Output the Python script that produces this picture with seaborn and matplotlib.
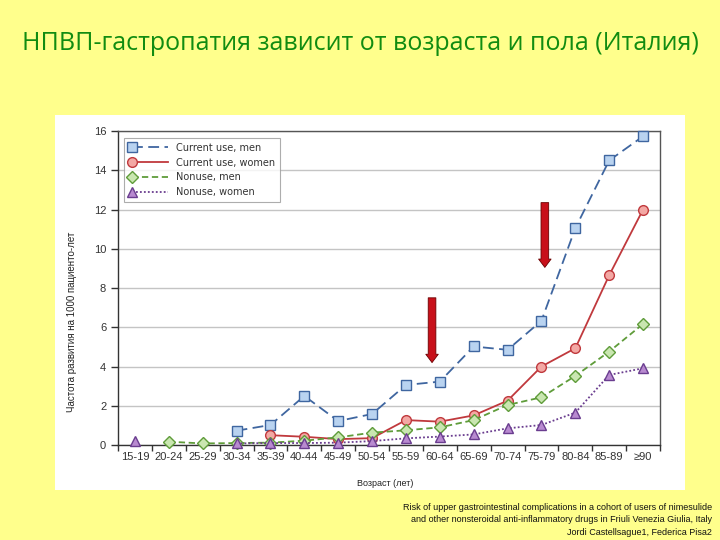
import numpy as np
import pandas as pd
import matplotlib
matplotlib.use("Agg")
import matplotlib.pyplot as plt
from matplotlib.lines import Line2D
from matplotlib.legend_handler import HandlerLine2D
from matplotlib.patches import Rectangle
import seaborn as sns

# --- data ---
ages = ["15-19", "20-24", "25-29", "30-34", "35-39", "40-44", "45-49", "50-54",
        "55-59", "60-64", "65-69", "70-74", "75-79", "80-84", "85-89", "≥90"]
nan = np.nan
cur_men = [nan, nan, nan, 0.73, 1.02, 2.5, 1.22, 1.58, 3.06, 3.23, 5.02, 4.85, 6.33, 11.05, 14.5, 15.73]
cur_women = [nan, nan, nan, nan, 0.5, 0.42, 0.3, 0.35, 1.27, 1.19, 1.51, 2.26, 4.0, 4.93, 8.65, 12.0]
non_men = [nan, 0.17, 0.08, 0.1, 0.12, 0.22, 0.39, 0.63, 0.75, 0.9, 1.27, 2.04, 2.43, 3.52, 4.76, 6.17]
non_women = [0.2, nan, nan, 0.08, 0.1, 0.1, 0.12, 0.2, 0.34, 0.43, 0.54, 0.85, 1.02, 1.65, 3.57, 3.91]

labels = ["Current use, men", "Current use, women", "Nonuse, men", "Nonuse, women"]
series = [cur_men, cur_women, non_men, non_women]

# style per series: line colour, marker face, marker, dashes
styles = [
    ("#3f66a0", "#b9d3f0", "s", [6, 3]),
    ("#c0393d", "#f3a8a4", "o", None),
    ("#5f9c3a", "#c9e6b0", "D", [3.5, 2]),
    ("#6a3d8f", "#b88ad0", "^", [1, 1.2]),
]

rows = []
for lab, vals in zip(labels, series):
    seg = 0
    prev_nan = True
    for i, v in enumerate(vals):
        if np.isnan(v):
            prev_nan = True
            continue
        if prev_nan:
            seg += 1
        prev_nan = False
        rows.append({"x": i, "val": v, "series": lab, "seg": seg})
df = pd.DataFrame(rows)

bg = "#ffff8c"
fig = plt.figure(figsize=(7.2, 5.4), dpi=100, facecolor=bg)
fig.patches.append(Rectangle((0.0764, 0.0926), 0.875, 0.694, transform=fig.transFigure,
                             facecolor="white", edgecolor="none", zorder=-5))

ax = fig.add_axes([0.1639, 0.1759, 0.7528, 0.5815])
ax.set_facecolor("white")
ax.set_zorder(2)

handles = []
for lab, (col, face, mk, dash) in zip(labels, styles):
    n0 = len(ax.lines)
    sns.lineplot(data=df[df["series"] == lab], x="x", y="val", units="seg", estimator=None,
                 color=col, marker=mk, markerfacecolor=face, markeredgecolor=col,
                 markeredgewidth=1.0, markersize=7 if mk != "D" else 6,
                 linewidth=1.3, ax=ax, legend=False, clip_on=False, zorder=3)
    for ln in ax.lines[n0:]:
        if dash is not None:
            ln.set_dashes(dash)
    handles.append(ax.lines[n0])

ax.set_xlim(-0.5, 15.5)
ax.set_ylim(0, 16)
ax.set_xticks(range(len(ages)))
ax.set_xticklabels(ages)
ax.set_xticks(np.arange(-0.5, 15.6, 1), minor=True)
ax.tick_params(axis="x", which="major", length=0, pad=5, labelsize=8, labelcolor="#333333")
ax.tick_params(axis="x", which="minor", length=4, width=1, color="#333333", direction="out")
ax.set_yticks(range(0, 17, 2))
ax.tick_params(axis="y", length=5, width=1, color="#333333", labelsize=8, labelcolor="#333333")
ax.set_xlabel("")
ax.set_ylabel("")
ax.yaxis.grid(True, color="#c4c4c4", linewidth=1)
ax.set_axisbelow(True)
for s in ax.spines.values():
    s.set_color("#555555")
    s.set_linewidth(1)
ax.spines["left"].set_color("#333333")
ax.spines["bottom"].set_color("#333333")


class LeftMarkerHandler(HandlerLine2D):
    def create_artists(self, *args, **kwargs):
        arts = super().create_artists(*args, **kwargs)
        for a in arts:
            a.set_markevery([0])
        return arts


leg = ax.legend(handles, labels, loc="upper left", bbox_to_anchor=(0.011, 0.978),
                borderaxespad=0, fontsize=7, frameon=True, fancybox=False, handlelength=4.3,
                handletextpad=0.6, borderpad=0.5, labelspacing=0.5,
                handler_map={Line2D: LeftMarkerHandler(numpoints=2)})
leg.get_frame().set_edgecolor("#999999")
leg.get_frame().set_linewidth(0.8)
for t in leg.get_texts():
    t.set_color("#333333")

# red arrows
for xa, y0, y1 in [(8.77, 7.5, 4.2), (12.1, 12.35, 9.05)]:
    ax.annotate("", xy=(xa, y1), xytext=(xa, y0),
                arrowprops=dict(arrowstyle="simple,head_width=0.9,tail_width=0.55,head_length=0.6",
                                fc="#c8101a", ec="#6a0000", lw=0.6, shrinkA=0, shrinkB=0),
                zorder=5)

fig.text(72 / 720, 1 - 322 / 540, "Частота развития на 1000 пациенто-лет", rotation=90,
         ha="center", va="center", fontsize=7, color="#222222", family="Liberation Sans")
fig.text(385 / 720, 1 - 483 / 540, "Возраст (лет)", ha="center", va="center",
         fontsize=6.5, color="#222222", family="Liberation Sans")

fig.text(0.5, 1 - 43 / 540, "НПВП-гастропатия зависит от возраста и пола (Италия)",
         ha="center", va="center", fontsize=18, color="#118c11", family="Open Sans")

cite = ("Risk of upper gastrointestinal complications in a cohort of users of nimesulide\n"
        "and other nonsteroidal anti-inflammatory drugs in Friuli Venezia Giulia, Italy\n"
        "Jordi Castellsague1, Federica Pisa2")
fig.text(712 / 720, 1 - 520 / 540, cite, ha="right", va="center", fontsize=6.5,
         color="#111111", family="Liberation Sans", linespacing=1.45, multialignment="right")

for t in ax.get_xticklabels() + ax.get_yticklabels():
    t.set_family("Liberation Sans")

fig.savefig("out.png", dpi=100, facecolor=bg)
